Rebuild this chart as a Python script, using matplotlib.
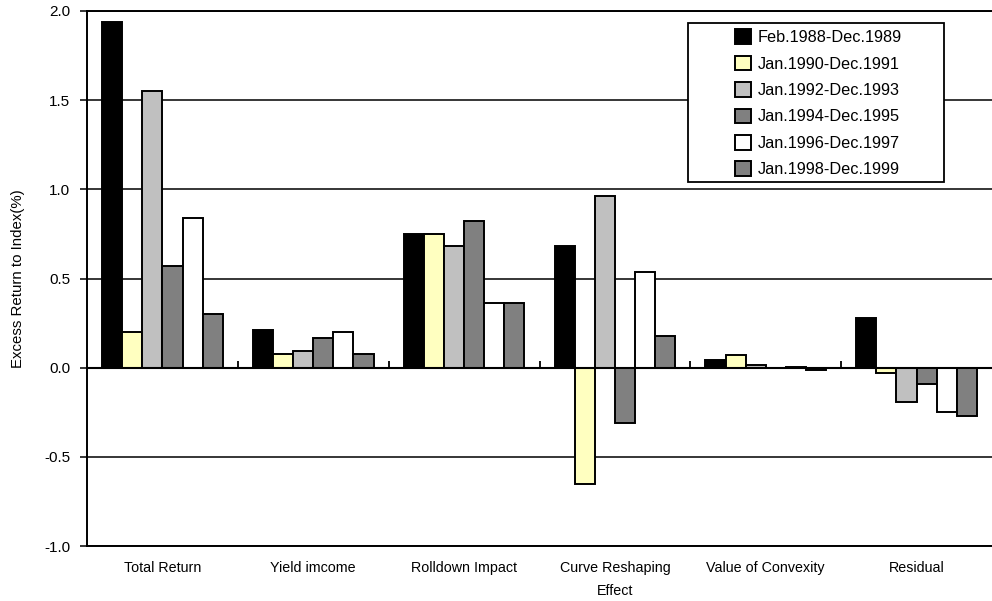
import numpy as np
import matplotlib
matplotlib.use("Agg")
import matplotlib.pyplot as plt
from matplotlib.patches import Rectangle

plt.rcParams["font.family"] = ["Liberation Sans", "DejaVu Sans"]

# Excess return decomposition by period
categories = ["Total Return", "Yield imcome", "Rolldown Impact",
              "Curve Reshaping\nEffect", "Value of Convexity", "Residual"]
periods = ["Feb.1988-Dec.1989", "Jan.1990-Dec.1991", "Jan.1992-Dec.1993",
           "Jan.1994-Dec.1995", "Jan.1996-Dec.1997", "Jan.1998-Dec.1999"]

feb88_dec89 = [1.94, 0.21, 0.75, 0.68, 0.045, 0.28]
jan90_dec91 = [0.20, 0.075, 0.75, -0.655, 0.07, -0.03]
jan92_dec93 = [1.55, 0.095, 0.685, 0.965, 0.015, -0.19]
jan94_dec95 = [0.57, 0.165, 0.82, -0.31, 0.0, -0.09]
jan96_dec97 = [0.84, 0.20, 0.365, 0.535, 0.005, -0.25]
jan98_dec99 = [0.30, 0.075, 0.365, 0.18, -0.012, -0.27]

series = [feb88_dec89, jan90_dec91, jan92_dec93, jan94_dec95, jan96_dec97, jan98_dec99]
colors = ["#000000", "#FFFFC0", "#C0C0C0", "#808080", "#FFFFFF", "#808080"]

fig = plt.figure(figsize=(9.92, 6.01), dpi=100)
ax = fig.add_axes([87 / 992, 1 - 546 / 601, 1 - 87 / 992, (546 - 11) / 601])

n = len(series)
group_w = 0.8
bar_w = group_w / n
x = np.arange(len(categories))

for i, (vals, col, lab) in enumerate(zip(series, colors, periods)):
    pos = x + 0.5 - group_w / 2 + (i + 0.5) * bar_w
    ax.bar(pos, vals, width=bar_w, color=col, edgecolor="black",
           linewidth=1.4, label=lab, zorder=3)

ax.set_xlim(0, len(categories))
ax.set_ylim(-1.0, 2.0)
ax.set_yticks(np.arange(-1.0, 2.01, 0.5))
ax.set_yticklabels([f"{v:.1f}" for v in np.arange(-1.0, 2.01, 0.5)])

# horizontal gridlines behind the bars
ax.yaxis.grid(True, color="black", linewidth=1.1, zorder=0)
ax.set_axisbelow(True)

# category axis crossing at zero with small upward ticks between groups
ax.axhline(0, color="black", linewidth=1.5, zorder=4)
ax.vlines(np.arange(1, len(categories)), 0, 0.036, color="black",
          linewidth=1.3, zorder=4)

ax.set_xticks(x + 0.5)
ax.set_xticklabels(categories, fontsize=10.3, linespacing=1.75)
ax.tick_params(axis="x", length=0, pad=11)
ax.tick_params(axis="y", direction="out", length=5, width=1.1,
               labelsize=11, pad=7)

for side in ["left", "bottom", "top"]:
    ax.spines[side].set_linewidth(1.4)
ax.spines["right"].set_visible(False)

ax.set_ylabel("Excess Return to Index(%)", fontsize=10.8, labelpad=14)

# legend with a wider box drawn around it
ax.add_patch(Rectangle((0.6641, 0.6804), 0.947 - 0.6641, 0.9776 - 0.6804,
                       transform=ax.transAxes, facecolor="white",
                       edgecolor="black", linewidth=1.3, zorder=5))
leg = ax.legend(loc="upper left", bbox_to_anchor=(0.716, 0.9655),
                frameon=False, fontsize=11.7, borderpad=0, borderaxespad=0,
                handlelength=1.0, handleheight=1.0, handletextpad=0.4,
                labelspacing=0.65)
leg.set_zorder(6)

fig.savefig("out.png", dpi=100)
